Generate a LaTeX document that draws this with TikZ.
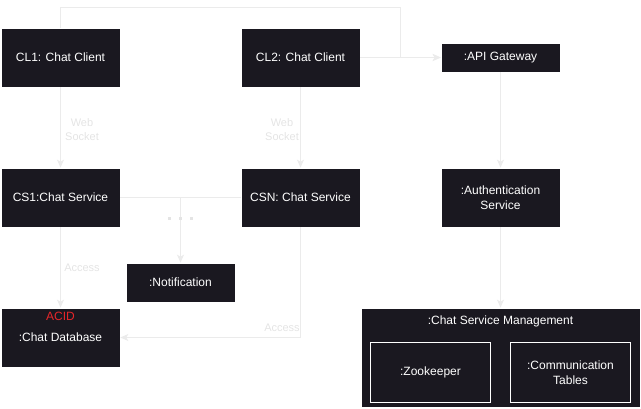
\documentclass[tikz,border=0pt]{standalone}
\usepackage{fontspec}
\setmainfont{Liberation Sans}
\usetikzlibrary{arrows,arrows.meta}
\definecolor{boxfill}{HTML}{1A1820}
\definecolor{linegray}{HTML}{EBEBEB}
\definecolor{labelgray}{HTML}{E4E4E4}
\definecolor{acidred}{HTML}{E8262A}

\begin{document}
\begin{tikzpicture}[x=1pt,y=-1pt]
			\tikzset{font=\fontsize{12}{15}\selectfont}
			\tikzset{block/.style = {draw=white,fill=boxfill,text=white,align=center,
					line width=0.6pt,minimum width=119pt,minimum height=59pt,inner sep=2pt}}
			\tikzset{edge/.style = {->,> = {Stealth[length=8pt,width=7pt,inset=2pt]},draw=linegray,line width=1pt}}
			\tikzset{wire/.style = {draw=linegray,line width=1pt}}
			\tikzset{tag/.style = {text=labelgray,align=center,font=\fontsize{11}{14}\selectfont}}
			\useasboundingbox (0,0) rectangle (641,408);
			% blocks
			\node[block] (cl1) at (60.5,57.5) {CL1: Chat Client};
			\node[block] (cl2) at (300.5,57.5) {CL2: Chat Client};
			\node[block,minimum height=29pt] (api) at (500.5,57.5) {:API Gateway};
			\node[block] (cs1) at (60.5,197.5) {CS1:Chat Service};
			\node[block] (csn) at (300.5,197.5) {CSN: Chat Service};
			\node[block] (auth) at (500.5,197.5) {:Authentication\\Service};
			\node[block,minimum width=109pt,minimum height=39pt] (notif) at (180.5,282.5) {:Notification};
			\node[block] (db) at (60.5,337.5) {:Chat Database};
			\node[text=acidred] (acid) at (60.5,316) {ACID};
			\node[block,minimum width=279pt,minimum height=99pt] (csm) at (500.5,357.5) {};
			\node[text=white] (csmtitle) at (500.5,321) {:Chat Service Management};
			\node[block,minimum width=120pt,minimum height=60pt] (zk) at (430.5,372.5) {:Zookeeper};
			\node[block,minimum width=120pt,minimum height=60pt] (comm) at (570.5,372.5) {:Communication\\Tables};
			
			\coordinate (bend) at (400.5,7.5);
			\coordinate (split) at (180.5,197.5);
			
			%edges
			\draw[edge] (cl1) to (cs1);
			\draw[edge] (cl2) to (csn);
			\draw[edge] (cl2) to (api);
			\draw[edge] (cl1.north) |- (bend) |- (api.west);
			\draw[wire] (cs1) to (csn);
			\draw[edge] (split) to (notif);
			\draw[edge] (cs1) to (db);
			\draw[edge] (csn.south) |- (db.east);
			\draw[edge] (api) to (auth);
			\draw[edge] (auth) to (csm);
			
			% edge labels
			\node[tag] (ws1) at (82,130) {Web\\Socket};
			\node[tag] (ws2) at (282,130) {Web\\Socket};
			\node[tag] (acc1) at (82,268) {Access};
			\node[tag] (acc2) at (282,328) {Access};
			\foreach \x in {169,180,191}
				\fill[labelgray] (\x-1.5,216.5) rectangle +(3,3);
			\end{tikzpicture}
\end{document}
